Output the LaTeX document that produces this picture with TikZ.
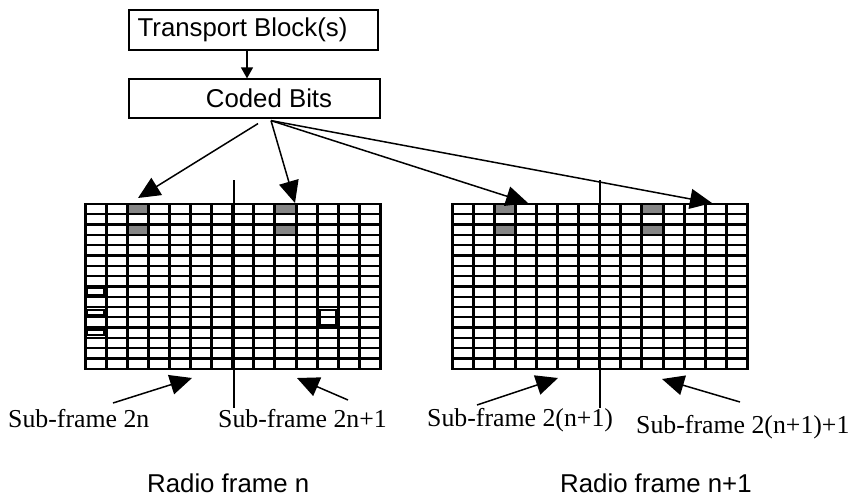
\documentclass[tikz,border=0pt]{standalone}
\usepackage{fontspec}
\setmainfont{Liberation Sans}
\newfontfamily\seriffont{Liberation Serif}
\usetikzlibrary{arrows.meta,calc}
\newcommand\rfgrid[1]{%
  \foreach \c/\r in {2/0,2/2,9/0,9/2}
    \fill[cellgray] ({\c*21.1},{\r*10.3}) rectangle ++(21.1,10.3);
  \foreach \j in {0,...,16}
    \draw[hgridline] (0,{\j*10.3}) -- (295.4,{\j*10.3});
  \foreach \i in {0,...,14}
    \draw[vgridline] ({\i*21.1},0) -- ({\i*21.1},164.8);
  \draw[midline] (0,82.4) -- (295.4,82.4);
  #1}
\begin{document}
\begin{tikzpicture}[x=1pt,y=-1pt,
  vgridline/.style={line width=3pt, line cap=rect},
  hgridline/.style={line width=2.3pt},
  midline/.style={line width=3.2pt},
  boldcell/.style={line width=2pt},
  cellgray/.style={fill=black!48},
  box/.style={draw, line width=1.2pt, inner sep=0pt, font=\fontsize{25.8}{30}\selectfont},
  bigarrow/.style={line width=1.5pt, -{Triangle[length=22pt,width=20pt]}},
  smallarrow/.style={line width=1.2pt, -{Triangle[length=11pt,width=12pt]}},
  divider/.style={line width=1.2pt},
  sublabel/.style={font=\seriffont\fontsize{25.8}{30}\selectfont, inner sep=0pt, anchor=base west},
  framelabel/.style={font=\fontsize{25.8}{30}\selectfont, inner sep=0pt, anchor=base west}]
\useasboundingbox (0,0) rectangle (850,498);

% top boxes
\node[box, minimum width=249pt, minimum height=40pt] (tb) at (253.5,30) {Transport Block(s)\hspace*{22pt}};
\node[box, minimum width=251pt, minimum height=39pt] (cb) at (254.5,98.5) {\hspace*{29pt}Coded Bits};
\draw[smallarrow] ($(tb.south)+(-6.5,0)$) -- ($(cb.north)+(-7.5,0)$);

% grids
\begin{scope}[shift={(85,204)}]
  \rfgrid{%
    \draw[boldcell] (2,84.4) rectangle (19,90.7);
    \draw[boldcell] (2,105.5) rectangle (19,110.8);
    \draw[boldcell] (2,126.1) rectangle (19,131.4);
    \draw[boldcell] (234.5,105.5) rectangle (250.7,121.1);}
\end{scope}
\begin{scope}[shift={(452,204)}]
  \rfgrid{%
    \draw[boldcell] (0,0) rectangle (295.4,82.4);
    \draw[boldcell] (42.2,0) rectangle (63.3,30.9);
    \draw[boldcell] (189.9,0) rectangle (211,30.9);}
\end{scope}

% subframe dividers
\coordinate (d1t) at (234,180); \coordinate (d1b) at (234,408);
\coordinate (d2t) at (600,180); \coordinate (d2b) at (600,408);
\draw[divider] (d1t) -- (d1b);
\draw[divider] (d2t) -- (d2b);

% arrows from coded bits
\coordinate (a1) at (138,198);
\coordinate (a2) at (295,203);
\coordinate (a3) at (528,203);
\coordinate (a4) at (712,203);
\draw[bigarrow] ($(cb.south)+(3.5,5)$) -- (a1);
\draw[bigarrow] ($(cb.south)+(16.5,2)$) -- (a2);
\draw[bigarrow] ($(cb.south)+(16.5,2)$) -- (a3);
\draw[bigarrow] ($(cb.south)+(16.5,2)$) -- (a4);

% sub-frame labels
\node[sublabel] (s1) at (8,427) {Sub-frame 2n};
\node[sublabel] (s2) at (218,427) {Sub-frame 2n+1};
\node[sublabel] (s3) at (427,426) {Sub-frame 2(n+1)};
\node[sublabel] (s4) at (636,433) {Sub-frame 2(n+1)+1};

\coordinate (b1s) at (113,403); \coordinate (b1t) at (192,378);
\coordinate (b2s) at (348,400); \coordinate (b2t) at (297,378);
\coordinate (b3s) at (477,405); \coordinate (b3t) at (558,378);
\coordinate (b4s) at (740,402); \coordinate (b4t) at (662,379);
\draw[bigarrow] (b1s) -- (b1t);
\draw[bigarrow] (b2s) -- (b2t);
\draw[bigarrow] (b3s) -- (b3t);
\draw[bigarrow] (b4s) -- (b4t);

% radio frame labels
\node[framelabel] (r1) at (147,492) {Radio frame n};
\node[framelabel] (r2) at (560,492) {Radio frame n+1};
\end{tikzpicture}
\end{document}
